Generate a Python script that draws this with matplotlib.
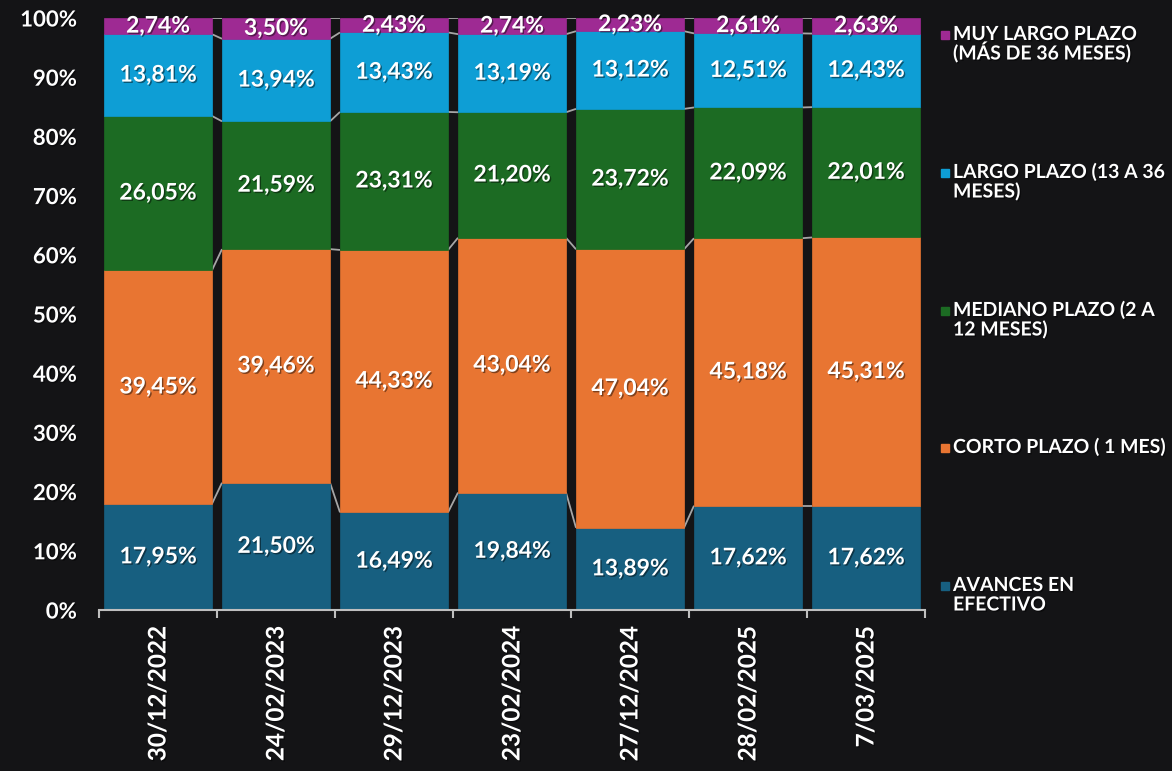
import matplotlib
matplotlib.use("Agg")
import matplotlib.pyplot as plt
import matplotlib.patheffects as pe
from matplotlib.patches import Rectangle
import numpy as np

categories = ["30/12/2022", "24/02/2023", "29/12/2023", "23/02/2024",
              "27/12/2024", "28/02/2025", "7/03/2025"]
avances = [17.95, 21.50, 16.49, 19.84, 13.89, 17.62, 17.62]
corto = [39.45, 39.46, 44.33, 43.04, 47.04, 45.18, 45.31]
mediano = [26.05, 21.59, 23.31, 21.20, 23.72, 22.09, 22.01]
largo = [13.81, 13.94, 13.43, 13.19, 13.12, 12.51, 12.43]
muy_largo = [2.74, 3.50, 2.43, 2.74, 2.23, 2.61, 2.63]

series_names = ["AVANCES EN\nEFECTIVO", "CORTO PLAZO ( 1 MES)",
                "MEDIANO PLAZO (2 A\n12 MESES)", "LARGO PLAZO (13 A 36\nMESES)",
                "MUY LARGO PLAZO\n(MÁS DE 36 MESES)"]
series_values = [avances, corto, mediano, largo, muy_largo]
colors = ["#175F80", "#E87532", "#1C6B23", "#0E9ED5", "#9E2A93"]
yticks = [0, 10, 20, 30, 40, 50, 60, 70, 80, 90, 100]

BG = "#141416"
FONT = ["Lato", "DejaVu Sans"]
plt.rcParams['font.family'] = FONT

fig = plt.figure(figsize=(11.72, 7.71), dpi=100, facecolor=BG)
ax = fig.add_axes([99/1172, 1-610/771, (925-99)/1172, (610-18)/771])
ax.set_facecolor(BG)

x = np.arange(len(categories))
width = 108/118
shadow = [pe.withSimplePatchShadow(offset=(1, -1), shadow_rgbFace="black", alpha=0.45)]

bottom = np.zeros(len(categories))
for vals, col in zip(series_values, colors):
    vals = np.array(vals)
    ax.bar(x, vals, width, bottom=bottom, color=col, edgecolor=col, linewidth=0.5, zorder=2)
    for xi, b, v in zip(x, bottom, vals):
        ax.text(xi, b + v/2, f"{v:.2f}%".replace(".", ","), ha="center", va="center",
                color="white", fontsize=16.5, fontweight="bold", zorder=4,
                path_effects=shadow)
    bottom = bottom + vals
    # connector lines at top of each segment
    for i in range(len(categories)-1):
        ax.plot([x[i] + width/2, x[i+1] - width/2], [bottom[i], bottom[i+1]],
                color="#A6A6A6", lw=1.3, zorder=1, solid_capstyle="butt")

ax.set_xlim(-0.5, len(categories)-0.5)
ax.set_ylim(0, 100)
ax.set_yticks(yticks)
ax.set_yticklabels([f"{t}%" for t in yticks])
ax.set_xticks(x)
ax.set_xticklabels(categories, rotation=90)
ax.set_xticks(np.arange(-0.5, len(categories)), minor=True)
ax.tick_params(axis="x", which="major", length=0, pad=12, colors="white", labelsize=17.5)
ax.tick_params(axis="x", which="minor", length=6, width=1.5, color="#BFBFBF")
ax.tick_params(axis="y", length=0, pad=16, colors="white", labelsize=16)
for lab in ax.get_xticklabels() + ax.get_yticklabels():
    lab.set_fontweight("bold")
    lab.set_path_effects(shadow)
for s in ["top", "right", "left"]:
    ax.spines[s].set_visible(False)
ax.spines["bottom"].set_color("#BFBFBF")
ax.spines["bottom"].set_linewidth(1.5)

# legend (manual, top entry = last series)
baselines = [591, 453, 316, 178, 40]
for name, col, yb in zip(series_names, colors, baselines):
    lines = name.split("\n")
    for j, line in enumerate(lines):
        fig.text(953/1172, 1-(yb + 19.5*j)/771, line, ha="left", va="baseline",
                 color="white", fontsize=14, fontweight="bold", path_effects=shadow)
    fig.patches.append(Rectangle((941/1172, 1-(yb-1)/771), 8/1172, 8/771,
                                 transform=fig.transFigure, color=col))

fig.savefig("out.png", dpi=100, facecolor=BG)
